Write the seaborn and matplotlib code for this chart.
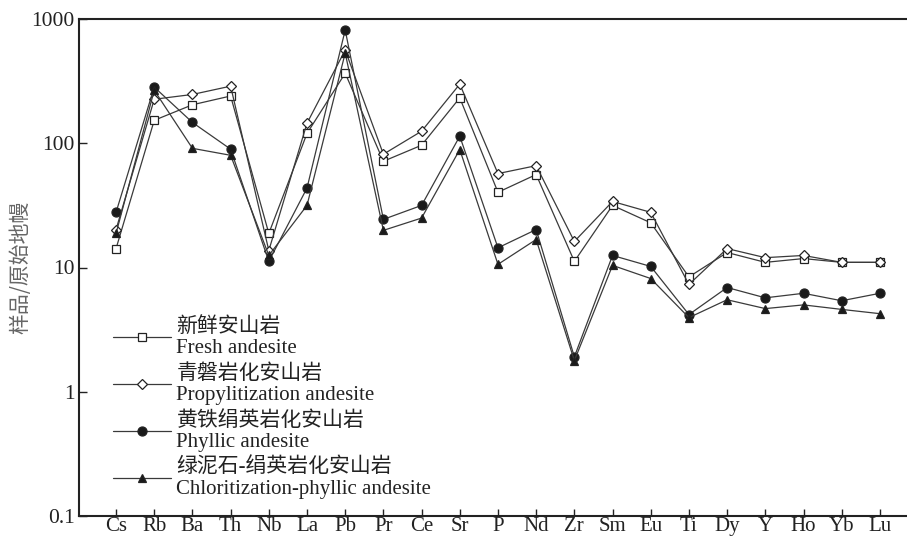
import numpy as np
import pandas as pd
import seaborn as sns
import matplotlib
matplotlib.use("Agg")
from matplotlib import pyplot as plt

elements = ["Cs", "Rb", "Ba", "Th", "Nb", "La", "Pb", "Pr", "Ce", "Sr", "P",
            "Nd", "Zr", "Sm", "Eu", "Ti", "Dy", "Y", "Ho", "Yb", "Lu"]

fresh = [14.2, 153, 204, 240, 18.8, 120, 366, 71.6, 96.4, 232, 40.3,
         56, 11.2, 31.6, 22.9, 8.4, 13.2, 11.0, 11.8, 11.0, 11.0]
propyl = [20.2, 226, 247, 288, 13.7, 145, 562, 81.6, 125, 299, 57,
          66, 16.2, 34, 27.8, 7.3, 14.2, 12.0, 12.5, 11.0, 11.0]
phyllic = [27.8, 283, 147, 89.6, 11.2, 43.6, 815, 24.4, 31.6, 114, 14.4,
           20.2, 1.91, 12.5, 10.2, 4.18, 6.9, 5.7, 6.2, 5.4, 6.2]
chlor = [18.8, 267, 91, 80, 12.5, 31.6, 532, 19.9, 25, 89, 10.6,
         16.8, 1.78, 10.4, 8.15, 3.95, 5.5, 4.67, 5.0, 4.6, 4.25]

labels = ["新鲜安山岩\nFresh andesite",
          "青磐岩化安山岩\nPropylitization andesite",
          "黄铁绢英岩化安山岩\nPhyllic andesite",
          "绿泥石-绢英岩化安山岩\nChloritization-phyllic andesite"]

y_ticks = [0.1, 1, 10, 100, 1000]
y_ticklabels = ["0.1", "1", "10", "100", "1000"]

sns.set_theme(style="ticks")
fam = ["Liberation Serif", "Noto Sans CJK SC"]
plt.rcParams["font.family"] = fam

fig = plt.figure(figsize=(9.07, 5.41), dpi=100)
ax = fig.add_axes([79 / 907, 25 / 541, 828 / 907, 497 / 541])

pos = np.arange(len(elements))
styles = [
    (fresh, "s", "white", 5.5),
    (propyl, "D", "white", 5),
    (phyllic, "o", "#1a1a1a", 6.5),
    (chlor, "^", "#1a1a1a", 5.5),
]
for (vals, mk, fc, ms), lab in zip(styles, labels):
    df = pd.DataFrame({"pos": pos, "val": vals})
    sns.lineplot(data=df, x="pos", y="val", ax=ax, sort=False, color="#3a3a3a",
                 lw=0.9, marker=mk, markersize=ms, markerfacecolor=fc,
                 markeredgecolor="#222222", markeredgewidth=0.9, label=lab)

ax.set_yscale("log")
ax.set_ylim(0.1, 1000)
ax.set_xlim(-0.97, 20.71)
ax.minorticks_off()
ax.set_yticks(y_ticks)
ax.set_yticklabels(y_ticklabels)
ax.set_xticks(pos)
ax.set_xticklabels(elements)
ax.tick_params(axis="y", direction="in", length=6, width=1, labelsize=15.5,
               pad=3, colors="#222222")
ax.tick_params(axis="x", direction="in", length=5, width=1, labelsize=15,
               pad=1, colors="#222222")
ax.set_xlabel("")
ax.set_ylabel("样品/原始地幔", fontsize=15, color="#666666", labelpad=0,
              family=["Noto Sans CJK SC", "DejaVu Sans"])

for s in ["left", "top", "bottom"]:
    ax.spines[s].set_linewidth(1.5)
    ax.spines[s].set_color("#222222")
ax.spines["right"].set_visible(False)

leg = ax.legend(loc="lower left", bbox_to_anchor=(0.041, 0.035), frameon=False,
                prop={"family": fam, "size": 15}, handlelength=2.8,
                handletextpad=0.25, labelspacing=0.28, borderpad=0,
                borderaxespad=0)
for t in leg.get_texts():
    t.set_color("#222222")
    t.set_linespacing(1.15)

fig.savefig("out.png", dpi=100)
